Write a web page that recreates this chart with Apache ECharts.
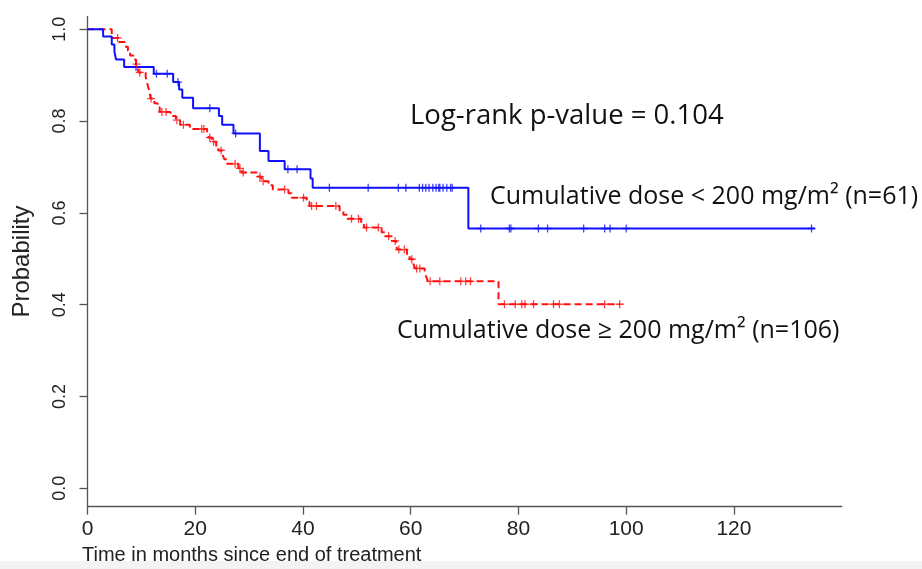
<!DOCTYPE html>
<html>
<head>
<meta charset="utf-8">
<script src="https://cdn.jsdelivr.net/npm/echarts@6/dist/echarts.min.js"></script>
<style>
html,body{margin:0;padding:0;background:#fff;}
#chart{width:922px;height:569px;}
</style>
</head>
<body>
<div id="chart"></div>
<script>
// ---- Data ----
// Cumulative dose < 200 mg/m2 (n=61): step times (months) and survival after each step
const blueTimes = [0, 2.9, 4.5, 5.0, 5.3, 6.8, 12.3, 15.9, 17.0, 17.6, 19.6, 24.4, 25.0, 27.1, 32.0, 33.6, 36.6, 41.4, 41.8, 70.7, 135.0];
const blueProb  = [1.0, 0.984, 0.967, 0.951, 0.934, 0.918, 0.903, 0.885, 0.869, 0.851, 0.828, 0.811, 0.792, 0.773, 0.735, 0.713, 0.695, 0.675, 0.655, 0.566, 0.566];
// censor marks
const blueCensorTimes = [9.0, 12.8, 14.8, 16.8, 22.7, 27.5, 37.2, 38.9, 44.9, 52.1, 57.7, 59.1, 61.6, 62.2, 62.8, 63.4, 64.1, 64.7, 65.2, 65.4, 66.0, 66.7, 67.4, 67.7, 73.0, 78.3, 78.6, 83.7, 85.4, 92.1, 96.0, 97.0, 100.0, 134.4];
const blueCensorProb  = [0.918, 0.903, 0.903, 0.885, 0.828, 0.773, 0.695, 0.695, 0.655, 0.655, 0.655, 0.655, 0.655, 0.655, 0.655, 0.655, 0.655, 0.655, 0.655, 0.655, 0.655, 0.655, 0.655, 0.655, 0.566, 0.566, 0.566, 0.566, 0.566, 0.566, 0.566, 0.566, 0.566, 0.566];

// Cumulative dose >= 200 mg/m2 (n=106)
const redTimes = [0, 4.5, 5.8, 6.9, 7.5, 7.9, 8.5, 9.0, 9.3, 9.5, 10.8, 11.0, 11.2, 11.4, 11.6, 11.7, 12.4, 13.0, 13.4, 15.4, 16.4, 17.2, 19.0, 22.2, 22.5, 23.1, 23.9, 24.3, 25.1, 25.4, 25.9, 28.0, 28.6, 31.4, 32.3, 33.6, 34.4, 37.3, 37.9, 40.7, 41.2, 46.8, 47.5, 48.2, 50.8, 51.3, 54.6, 55.2, 56.5, 57.3, 57.5, 59.3, 59.8, 60.5, 60.8, 62.6, 62.9, 63.2, 76.3, 98.8];
const redProb  = [1.0, 0.981, 0.972, 0.962, 0.953, 0.943, 0.934, 0.924, 0.915, 0.906, 0.896, 0.887, 0.877, 0.868, 0.858, 0.849, 0.839, 0.830, 0.820, 0.811, 0.802, 0.792, 0.783, 0.774, 0.764, 0.755, 0.745, 0.736, 0.726, 0.717, 0.707, 0.697, 0.688, 0.679, 0.669, 0.660, 0.651, 0.643, 0.633, 0.624, 0.615, 0.605, 0.596, 0.587, 0.577, 0.568, 0.558, 0.549, 0.539, 0.530, 0.520, 0.510, 0.499, 0.489, 0.479, 0.469, 0.460, 0.451, 0.401, 0.401];
const redCensorTimes = [5.6, 9.1, 9.7, 11.8, 13.8, 14.6, 16.6, 17.8, 21.2, 21.6, 22.7, 23.4, 24.8, 27.4, 28.3, 28.9, 32.0, 32.6, 36.6, 40.1, 41.6, 42.5, 46.1, 49.0, 50.3, 51.8, 54.0, 55.9, 57.1, 57.8, 58.8, 60.2, 61.1, 61.7, 63.6, 65.4, 69.3, 70.2, 71.1, 77.4, 79.4, 80.6, 81.2, 82.8, 86.5, 87.6, 96.0, 98.8];
const redCensorProb  = [0.981, 0.924, 0.906, 0.849, 0.820, 0.820, 0.802, 0.792, 0.783, 0.783, 0.764, 0.755, 0.736, 0.707, 0.697, 0.688, 0.679, 0.669, 0.651, 0.633, 0.615, 0.615, 0.615, 0.587, 0.587, 0.568, 0.568, 0.549, 0.539, 0.520, 0.520, 0.499, 0.479, 0.479, 0.451, 0.451, 0.451, 0.451, 0.451, 0.401, 0.401, 0.401, 0.401, 0.401, 0.401, 0.401, 0.401, 0.401];

const xTicks = [0, 20, 40, 60, 80, 100, 120];
const yTicks = [0, 0.2, 0.4, 0.6, 0.8, 1.0];

const labelPValue = 'Log-rank p-value = 0.104';
const labelLow = 'Cumulative dose < 200 mg/m\u00B2 (n=61)';
const labelHigh = 'Cumulative dose \u2265 200 mg/m\u00B2 (n=106)';
const xTitle = 'Time in months since end of treatment';
const yTitle = 'Probability';

// ---- Build ----
const zip = (a, b) => a.map((v, i) => [v, b[i]]);
const BLUE = '#1010ff';
const RED = '#ff1010';
const plus = 'path://M4.2,0H5.8V4.2H10V5.8H5.8V10H4.2V5.8H0V4.2H4.2Z';
const axisFont = '"Liberation Sans Narrow", "Liberation Sans", Arial, sans-serif';
const annFont = '"Open Sans", Lato, sans-serif';

const chart = echarts.init(document.getElementById('chart'), null, {renderer: 'canvas'});
chart.setOption({
  animation: false,
  backgroundColor: '#fff',
  grid: {left: 87.5, right: 80.3, top: 16.4, bottom: 62.3, containLabel: false, outerBoundsMode: 'none'},
  xAxis: {
    type: 'value', min: 0, max: 140,
    axisLine: {show: true, onZero: false, lineStyle: {color: '#555', width: 1.3}},
    axisTick: {show: true, customValues: xTicks, length: 8, lineStyle: {color: '#555', width: 1.3}},
    axisLabel: {customValues: xTicks, fontSize: 21, fontFamily: axisFont, color: '#222', margin: 12},
    splitLine: {show: false}
  },
  yAxis: {
    type: 'value', min: -0.04, max: 1.028,
    name: yTitle, nameLocation: 'middle', nameRotate: 90, nameGap: 53,
    nameTextStyle: {fontSize: 24, fontFamily: '"Liberation Sans", Arial, sans-serif', color: '#222'},
    axisLine: {show: true, onZero: false, lineStyle: {color: '#555', width: 1.3}},
    axisTick: {show: true, customValues: yTicks, length: 8, lineStyle: {color: '#555', width: 1.3}},
    axisLabel: {customValues: yTicks, rotate: 90, fontSize: 18, fontFamily: '"Liberation Sans", Arial, sans-serif', color: '#222', margin: 18,
      formatter: v => Number(v).toFixed(1)},
    splitLine: {show: false}
  },
  series: [
    {type: 'line', data: zip(blueTimes, blueProb), step: 'end', showSymbol: false, z: 3,
      lineStyle: {color: BLUE, width: 2}},
    {type: 'line', data: zip(redTimes, redProb), step: 'end', showSymbol: false, z: 2,
      lineStyle: {color: RED, width: 2, type: [7, 4]}},
    {type: 'scatter', data: zip(blueCensorTimes, blueCensorProb), symbol: plus, symbolSize: 8, z: 4,
      itemStyle: {color: BLUE, opacity: 0.8}},
    {type: 'scatter', data: zip(redCensorTimes, redCensorProb), symbol: plus, symbolSize: 8, z: 4,
      itemStyle: {color: RED}}
  ],
  graphic: [
    {type: 'rect', left: 0, top: 561, shape: {width: 922, height: 8}, style: {fill: '#f3f3f3'}, z: -1, silent: true},
    {type: 'text', x: 410, y: 116.5, style: {text: labelPValue, font: '27.5px ' + annFont, fill: '#111', textAlign: 'left', textVerticalAlign: 'middle'}},
    {type: 'text', x: 490, y: 196.5, style: {text: labelLow, font: '25px ' + annFont, fill: '#111', textAlign: 'left', textVerticalAlign: 'middle'}},
    {type: 'text', x: 397, y: 331.3, style: {text: labelHigh, font: '25px ' + annFont, fill: '#111', textAlign: 'left', textVerticalAlign: 'middle'}},
    {type: 'text', left: 82, top: 545, style: {text: xTitle, font: '20px ' + axisFont, fill: '#222'}}
  ]
});
</script>
</body>
</html>
